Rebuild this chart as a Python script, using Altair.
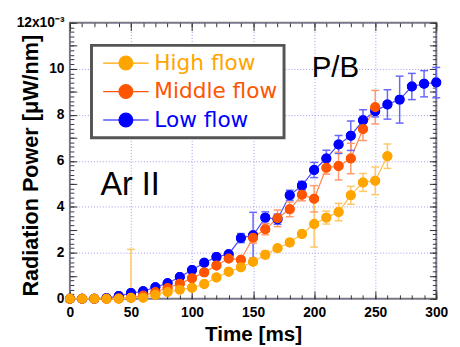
import altair as alt
import pandas as pd

# ---------------- data ----------------
series_names = ["High flow", "Middle flow", "Low flow"]

times_high = list(range(0, 261, 10))
high = [0, 0, 0, 0, 0, 0.05, 0.05, 0.18, 0.30, 0.40, 0.48, 0.64, 0.93, 1.18, 1.37,
        1.61, 1.92, 2.20, 2.45, 2.82, 3.25, 3.53, 3.77, 4.50, 5.06, 5.13, 6.20]
high_err = [0.02, 0.02, 0.02, 0.02, 0.02, 2.10, 0.03, 0.03, 0.04, 0.04, 0.05, 0.05, 0.05,
            0.06, 0.08, 0.13, 0.17, 0.10, 0.15, 0.15, 1.00, 0.28, 0.38, 0.39, 0.39, 0.60, 0.53]

times_mid = list(range(0, 251, 10))
mid = [0, 0, 0, 0, 0.02, 0.05, 0.14, 0.30, 0.47, 0.66, 0.90, 1.15, 1.45, 1.75, 1.70,
       2.66, 3.02, 3.50, 3.89, 4.52, 4.35, 5.70, 5.77, 6.10, 7.38, 8.33]
mid_err = [0.02, 0.02, 0.02, 0.02, 0.02, 0.03, 0.03, 0.04, 0.05, 0.05, 0.06, 0.07, 0.08,
           0.10, 0.12, 0.24, 0.24, 0.36, 0.32, 0.26, 0.57, 0.28, 0.60, 0.66, 0.50, 0.73]

times_low = list(range(0, 301, 10))
low = [0, 0, 0, 0.03, 0.12, 0.25, 0.33, 0.50, 0.68, 0.95, 1.25, 1.57, 1.82, 1.94, 2.64,
       2.76, 3.53, 3.46, 4.50, 4.92, 5.60, 6.10, 6.71, 7.09, 7.76, 8.16, 8.45, 8.66,
       9.23, 9.35, 9.40]
low_err = [0.02, 0.02, 0.02, 0.03, 0.04, 0.05, 0.05, 0.05, 0.06, 0.06, 0.07, 0.10, 0.15,
           0.10, 0.20, 1.00, 0.25, 0.22, 0.22, 0.19, 0.33, 0.36, 0.39, 0.64, 0.46, 0.25,
           0.64, 1.02, 0.57, 0.57, 0.66]

x_major = [0, 50, 100, 150, 200, 250, 300]
x_minor = list(range(0, 301, 10))
y_labels = [0, 2, 4, 6, 8, 10, 12]
y_major = list(range(0, 13))
y_minor = [round(i * 0.2, 2) for i in range(0, 61)]

annot_text = ["Ar II", "P/B"]
annot_x = [25, 198]
annot_y = [4.53, 9.66]

# ---------------- styles ----------------
point_colors = {"High flow": "#FFA500", "Middle flow": "#FF5500", "Low flow": "#0000FF"}
line_colors = {"High flow": "#FFBE4A", "Middle flow": "#FF8448", "Low flow": "#4A4AFF"}
bar_colors = {"High flow": "#FFC866", "Middle flow": "#FF9A6A", "Low flow": "#6666FF"}

# ---------------- build table ----------------
rows = []
for name, ts, vs, es in [("Low flow", times_low, low, low_err),
                         ("Middle flow", times_mid, mid, mid_err),
                         ("High flow", times_high, high, high_err)]:
    for t, v, e in zip(ts, vs, es):
        rows.append({"series": name, "t": t, "v": v,
                     "lo": max(v - e, 0.0), "hi": v + e})
df = pd.DataFrame(rows)
df["line_col"] = df["series"].map(line_colors)
df["bar_col"] = df["series"].map(bar_colors)
df_ar = pd.DataFrame({"x": annot_x[:1], "y": annot_y[:1], "label": annot_text[:1]})
df_pb = pd.DataFrame({"x": annot_x[1:], "y": annot_y[1:], "label": annot_text[1:]})

FONT = "Liberation Sans"
xs = alt.Scale(domain=[0, 300], nice=False)
ys = alt.Scale(domain=[0, 12], nice=False)
cs = alt.Scale(domain=series_names, range=[point_colors[s] for s in series_names])


def tick_axis(orient, values, size):
    return alt.Axis(orient=orient, values=values, tickSize=size, offset=-size,
                    labels=False, domain=False, grid=False, title=None, ticks=True,
                    tickColor="#333333", tickWidth=1)


x_label_axis = alt.Axis(orient="bottom", values=x_major, ticks=False, tickSize=0,
                        domain=False, grid=True, gridColor="#9a9af2", gridDash=[1, 2],
                        gridWidth=1, labelFont=FONT, labelFontSize=14,
                        labelFontWeight="bold", labelColor="black", labelPadding=7,
                        labelFlush=False,
                        title="Time [ms]", titleFont=FONT, titleFontSize=21,
                        titleFontWeight="bold", titleColor="black",
                        titleBaseline="alphabetic", titleY=42)
y_label_axis = alt.Axis(orient="left", values=y_labels, ticks=False, tickSize=0,
                        domain=False, grid=True, gridColor="#9a9af2", gridDash=[1, 2],
                        gridWidth=1, labelFont=FONT, labelFontSize=14,
                        labelFontWeight="bold", labelColor="black", labelPadding=6,
                        labelFlush=False,
                        labelExpr="datum.value == 12 ? '12x10\u207b\u00b3' : datum.label",
                        title="Radiation Power [\u03bcW/nm]", titleFont=FONT,
                        titleFontSize=22, titleFontWeight="bold", titleColor="black",
                        titleBaseline="alphabetic", titleX=-33, titleY=145,
                        titleAngle=270)

base = alt.Chart(df)

symbol_path = "M-3.3,0L-1,0M1,0L3.3,0M1,0A1,1,0,1,1,-1,0A1,1,0,1,1,1,0Z"
leg = alt.Legend(
    title=None, orient="none", legendX=22, legendY=23, padding=7,
    fillColor="white", strokeColor="#555555",
    symbolType=symbol_path, symbolSize=196, symbolStrokeWidth=1.2, symbolOpacity=1,
    symbolOffset=17, labelOffset=18, rowPadding=7,
    labelFont="DejaVu Sans", labelFontSize=22, labelLimit=300,
    labelColor={"expr": "datum.label === 'High flow' ? '#FFA500' : (datum.label === 'Middle flow' ? '#FF5500' : '#0000FF')"},
)

# first layer: points (carries the legend and the label axes)
points_legend = base.mark_point(filled=True, size=80, opacity=1, strokeWidth=1.2).encode(
    x=alt.X("t:Q", scale=xs, axis=x_label_axis),
    y=alt.Y("v:Q", scale=ys, axis=y_label_axis),
    color=alt.Color("series:N", scale=cs, legend=leg),
    stroke=alt.Stroke("series:N", scale=cs, legend=leg),
)

lines = base.mark_line(strokeWidth=1.2).encode(
    x=alt.X("t:Q", scale=xs, axis=tick_axis("bottom", x_major, 8)),
    y=alt.Y("v:Q", scale=ys, axis=tick_axis("left", y_major, 7)),
    color=alt.Color("line_col:N", scale=None),
    detail="series:N",
)

rules = base.mark_rule(strokeWidth=1.5).encode(
    x=alt.X("t:Q", scale=xs, axis=tick_axis("bottom", x_minor, 4)),
    y=alt.Y("lo:Q", scale=ys, axis=tick_axis("left", y_minor, 4)),
    y2="hi:Q",
    color=alt.Color("bar_col:N", scale=None),
)

caps_lo = base.mark_tick(orient="horizontal", size=8, thickness=1.5, opacity=1).encode(
    x=alt.X("t:Q", scale=xs, axis=tick_axis("top", x_major, 8)),
    y=alt.Y("lo:Q", scale=ys, axis=tick_axis("right", y_major, 7)),
    color=alt.Color("bar_col:N", scale=None),
)

caps_hi = base.mark_tick(orient="horizontal", size=8, thickness=1.5, opacity=1).encode(
    x=alt.X("t:Q", scale=xs, axis=tick_axis("top", x_minor, 4)),
    y=alt.Y("hi:Q", scale=ys, axis=tick_axis("right", y_minor, 4)),
    color=alt.Color("bar_col:N", scale=None),
)

points_top = base.mark_point(filled=True, size=80, opacity=1, strokeWidth=1.2).encode(
    x=alt.X("t:Q", scale=xs, axis=None),
    y=alt.Y("v:Q", scale=ys, axis=None),
    color=alt.Color("series:N", scale=cs, legend=leg),
    stroke=alt.Stroke("series:N", scale=cs, legend=leg),
)

ar_text = alt.Chart(df_ar).mark_text(font=FONT, fontSize=33, align="left",
                                     baseline="alphabetic", color="black").encode(
    x=alt.X("x:Q", scale=xs, axis=None),
    y=alt.Y("y:Q", scale=ys, axis=None),
    text="label:N",
)
pb_text = alt.Chart(df_pb).mark_text(font=FONT, fontSize=30, align="left",
                                     baseline="alphabetic", color="black").encode(
    x=alt.X("x:Q", scale=xs, axis=None),
    y=alt.Y("y:Q", scale=ys, axis=None),
    text="label:N",
)

chart = alt.layer(points_legend, lines, rules, caps_lo, caps_hi, points_top,
                  ar_text, pb_text).resolve_axis(
    x="independent", y="independent"
).properties(
    width=373, height=281,
    padding={"left": 63, "top": 12, "right": 16, "bottom": 46},
    autosize=alt.AutoSizeParams(type="none"),
    background="white",
).configure_view(
    stroke="#777777", strokeWidth=2
).configure_legend(
    strokeWidth=3
)

chart.save("out.html", embed_options={"renderer": "svg", "actions": False})
